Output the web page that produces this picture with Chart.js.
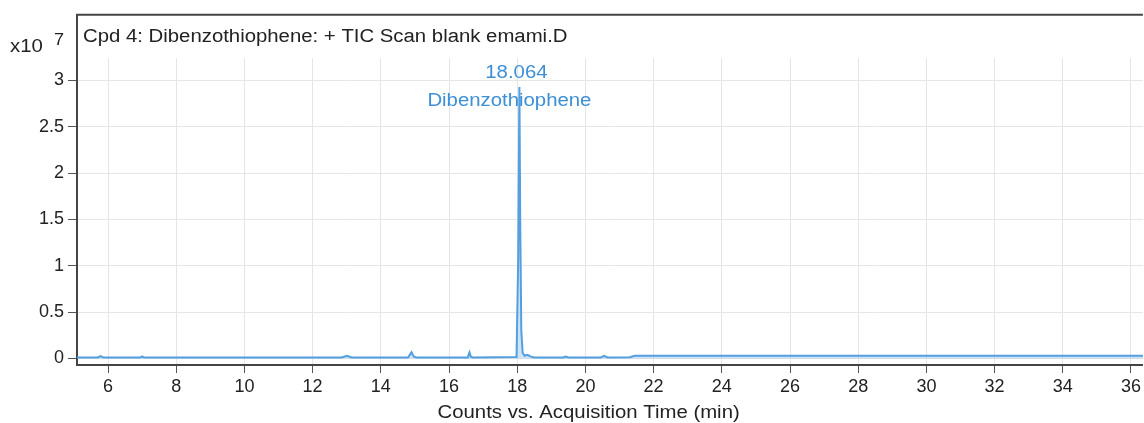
<!DOCTYPE html>
<html lang="en">
<head>
  <meta charset="UTF-8">
  <title>Dibenzothiophene TIC</title>
  <script src="https://cdn.jsdelivr.net/npm/chart.js"></script>
  <style>
    body {
      margin: 0;
      background: #fff;
      overflow: hidden;
    }
  </style>
</head>
<body>
  <canvas id="ticChart" width="1144" height="423"></canvas>

  <script>
    // acquisition time (min) and counts (x10^7)
    const times = [5.09, 5.7, 5.78, 5.86, 6.95, 7.0, 7.05, 12.85, 13.0, 13.15,
      14.8, 14.9, 14.97, 15.05, 16.55, 16.6, 16.64, 16.7, 17.98, 18.03, 18.064,
      18.09, 18.12, 18.16, 18.22, 18.3, 18.4, 18.5, 19.35, 19.42, 19.5, 20.45, 20.55,
      20.65, 21.3, 21.45, 36.4];
    const counts = [0.012, 0.012, 0.025, 0.012, 0.012, 0.022, 0.012, 0.012, 0.03, 0.012,
      0.012, 0.068, 0.02, 0.012, 0.012, 0.065, 0.02, 0.012, 0.015, 1.1, 2.93,
      1.4, 0.3, 0.06, 0.03, 0.04, 0.02, 0.012, 0.012, 0.022, 0.012, 0.012, 0.028,
      0.012, 0.014, 0.03, 0.03];

    const xTicks = [6, 8, 10, 12, 14, 16, 18, 20, 22, 24, 26, 28, 30, 32, 34, 36];
    const yTicks = [0, 0.5, 1, 1.5, 2, 2.5, 3];

    const peakTime = 18.064;
    const peakName = 'Dibenzothiophene';
    const plotTitle = 'Cpd 4: Dibenzothiophene: + TIC Scan blank emami.D';
    const xTitle = 'Counts vs. Acquisition Time (min)';

    const FONT = '"Liberation Sans", Arial, sans-serif';
    const STRETCH = 1.13; // the original text runs wider than Arial

    function wideText(ctx, text, x, y, align) {
      const w = ctx.measureText(text).width * STRETCH;
      let left = x;
      if (align === 'center') left = x - w / 2;
      ctx.save();
      ctx.textAlign = 'left';
      ctx.translate(left, y);
      ctx.scale(STRETCH, 1);
      ctx.fillText(text, 0, 0);
      ctx.restore();
    }

    const frame = {
      id: 'frame',
      beforeDatasetsDraw(chart) {
        const { ctx, chartArea: a, scales } = chart;
        // vertical grid stops below the title strip
        const yCut = scales.y.getPixelForValue(3.24);
        ctx.save();
        ctx.fillStyle = '#fff';
        ctx.fillRect(a.left + 2, a.top, a.right - a.left, yCut - a.top);
        ctx.restore();
      },
      afterDraw(chart) {
        const { ctx, chartArea: a, scales } = chart;
        ctx.save();
        // top border
        ctx.strokeStyle = '#444';
        ctx.lineWidth = 2;
        ctx.beginPath();
        ctx.moveTo(a.left - 1, a.top);
        ctx.lineTo(a.right, a.top);
        ctx.stroke();

        ctx.fillStyle = '#222';
        ctx.textBaseline = 'middle';
        ctx.font = '18px ' + FONT;
        wideText(ctx, plotTitle, a.left + 6, 37, 'left');

        // exponent label
        wideText(ctx, 'x10', 10, 47, 'left');
        ctx.font = '16px ' + FONT;
        wideText(ctx, '7', 54, 41, 'left');

        // axis title
        ctx.font = '18px ' + FONT;
        wideText(ctx, xTitle, a.left + (a.right - a.left) * 0.48, 413, 'center');

        // peak annotation
        const px = scales.x.getPixelForValue(peakTime);
        ctx.fillStyle = '#3d8fd6';
        wideText(ctx, peakTime.toFixed(3), px - 3, 73, 'center');
        wideText(ctx, peakName, px - 10, 101, 'center');
        ctx.restore();
      }
    };

    new Chart(document.getElementById('ticChart'), {
      type: 'line',
      data: {
        datasets: [{
          data: times.map((t, i) => ({ x: t, y: counts[i] })),
          borderColor: '#539fdf',
          backgroundColor: 'rgba(130, 185, 235, 0.4)',
          borderWidth: 2,
          pointRadius: 0,
          fill: 'origin',
          tension: 0
        }]
      },
      options: {
        responsive: false,
        animation: false,
        layout: { padding: { top: 8, right: 0, left: 0, bottom: 0 } },
        plugins: {
          legend: { display: false },
          tooltip: { enabled: false }
        },
        scales: {
          x: {
            type: 'linear',
            min: 5.09,
            max: 36.35,
            afterBuildTicks: s => { s.ticks = xTicks.map(v => ({ value: v })); },
            afterFit: s => { s.height = 58; },
            grid: { color: '#e2e6ea', tickColor: '#555', tickLength: 8 },
            border: { color: '#444', width: 2 },
            ticks: { color: '#222', font: { family: FONT, size: 18 }, padding: 3, maxRotation: 0 }
          },
          y: {
            min: -0.07,
            max: 3.708,
            afterBuildTicks: s => { s.ticks = yTicks.map(v => ({ value: v })); },
            afterFit: s => { s.width = 77; },
            grid: { color: '#e6e6e6', tickColor: '#555', tickLength: 9 },
            border: { color: '#444', width: 2 },
            ticks: {
              color: '#222',
              font: { family: FONT, size: 18 },
              padding: 4,
              callback: v => String(v)
            }
          }
        }
      },
      plugins: [frame]
    });
  </script>
</body>
</html>
